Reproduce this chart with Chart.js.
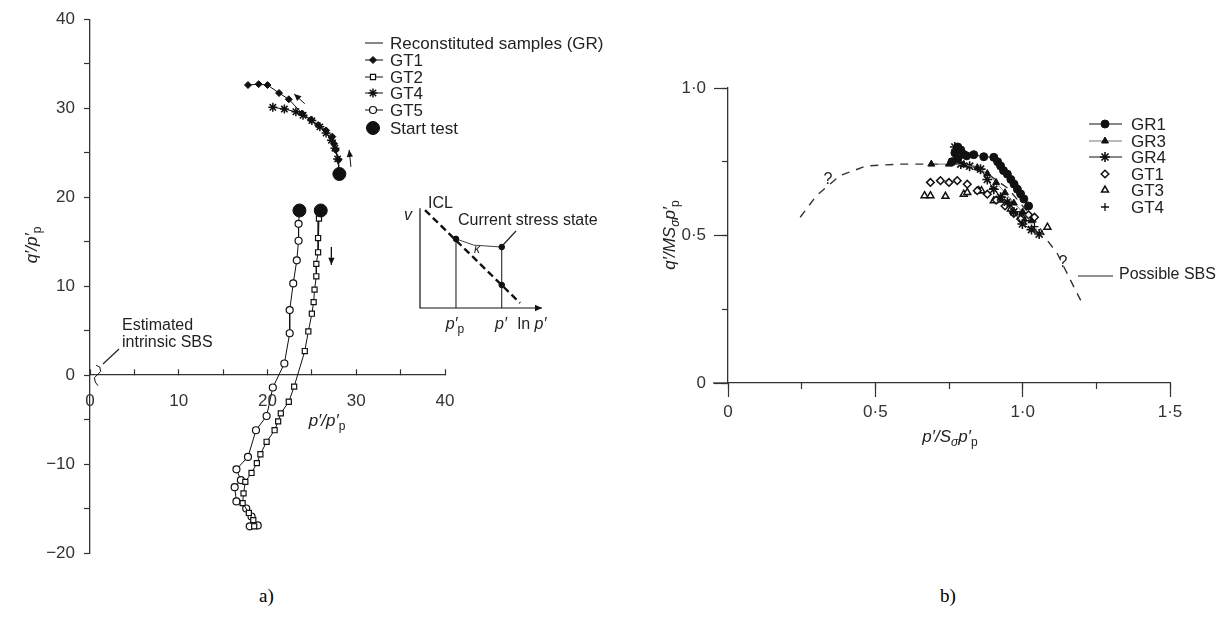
<!DOCTYPE html>
<html>
<head>
<meta charset="utf-8">
<script src="https://cdn.jsdelivr.net/npm/chart.js@4.4.1/dist/chart.umd.min.js"></script>
<style>
  html, body { margin: 0; padding: 0; background: #fff; }
  body { width: 1226px; height: 617px; position: relative; overflow: hidden; }
  canvas { position: absolute; }
  .cap { position: absolute; font-family: 'Liberation Serif', 'Times New Roman', serif; font-size: 19px; color: #000; }
</style>
</head>
<body>
<canvas id="left" width="640" height="580" style="left:0px;top:0px"></canvas>
<canvas id="inset" width="260" height="150" style="left:380px;top:190px"></canvas>
<canvas id="right" width="586" height="470" style="left:640px;top:0px"></canvas>
<div class="cap" style="left:259px;top:585px">a)</div>
<div class="cap" style="left:940px;top:585px">b)</div>
<script>
// ---- panel a) q'/p'p against p'/p'p ----
const grP = [0.7, 1.1, 1.2, 0.9, 0.5, 0.6, 0.9];
const grQ = [1.1, 0.9, 0.4, 0.1, -0.3, -0.8, -1.2];
const gt1P = [17.8, 19.0, 20.0, 21.3, 22.4, 23.9, 24.9, 25.7, 26.6, 27.3, 27.5, 27.7, 28.0, 28.1];
const gt1Q = [32.6, 32.7, 32.6, 31.7, 31.0, 29.4, 28.7, 28.1, 27.5, 26.8, 26.0, 25.3, 24.2, 22.6];
const gt2P = [26.0, 25.8, 25.7, 25.7, 25.5, 25.5, 25.3, 25.2, 25.0, 24.6, 24.2, 23.0, 22.4, 21.5, 21.2, 20.8, 19.9, 19.2, 18.8, 18.2, 17.5, 17.3, 17.2, 17.9, 18.4, 18.5];
const gt2Q = [18.5, 17.6, 15.4, 13.8, 12.5, 11.1, 9.6, 8.2, 6.9, 4.9, 2.7, -1.3, -3.0, -4.3, -5.2, -6.2, -7.5, -8.9, -9.9, -11.0, -12.0, -13.3, -14.4, -15.5, -16.3, -17.0];
const gt4P = [20.6, 21.9, 23.2, 24.0, 25.0, 25.9, 26.6, 27.2, 27.6, 27.9, 28.1];
const gt4Q = [30.1, 29.9, 29.6, 29.2, 28.6, 27.9, 27.2, 26.4, 25.5, 24.3, 22.6];
const gt5P = [23.6, 23.5, 23.5, 23.3, 22.9, 22.5, 22.5, 21.9, 20.6, 19.9, 18.7, 17.8, 16.5, 17.0, 16.3, 16.5, 17.6, 18.2, 18.0, 18.9];
const gt5Q = [18.5, 17.0, 15.1, 12.9, 10.3, 7.3, 4.7, 1.3, -1.4, -4.6, -6.2, -9.2, -10.6, -11.8, -12.6, -14.2, -15.0, -15.9, -17.0, -16.9];
const startP = [28.1, 23.6, 26.0];
const startQ = [22.6, 18.5, 18.5];
// direction arrows (tail -> head)
const dirTopP = [24.2, 23.0], dirTopQ = [30.5, 31.6];
const dirRightP = [29.4, 29.2], dirRightQ = [23.4, 25.3];
const dirLowP = [27.2, 27.2], dirLowQ = [14.4, 12.4];
const leftXLabels = ['0', '10', '20', '30', '40'];
const leftYLabels = ['\u221220', '\u221210', '0', '10', '20', '30', '40'];

// ---- inset sketch (v against ln p') ----
const insAxisX = [0, 0, 10], insAxisY = [10.4, 0, 0];
const iclX = [0.41, 8.2], iclY = [10.2, 0.52];
const ppX = [2.95, 2.95], ppY = [0, 7.2];
const pX = [6.7, 6.7], pY = [0, 6.35];
const kapX = [2.95, 4.4, 6.7], kapY = [7.2, 6.55, 6.35];
const dotX = [2.95, 6.7, 6.7], dotY = [7.2, 6.35, 2.4];

// ---- panel b) normalised ----
const sbsX = [0.245, 0.30, 0.38, 0.47, 0.585, 0.70, 0.80, 0.88, 0.95, 1.00, 1.05, 1.084, 1.118, 1.157, 1.197];
const sbsY = [0.562, 0.635, 0.703, 0.736, 0.742, 0.742, 0.735, 0.71, 0.66, 0.60, 0.54, 0.483, 0.438, 0.359, 0.280];
const gr1X = [0.76, 0.77, 0.78, 0.79, 0.78, 0.80, 0.81, 0.834, 0.868, 0.902, 0.915, 0.925, 0.935, 0.948, 0.96, 0.971, 0.982, 0.993, 1.004, 1.02];
const gr1Y = [0.75, 0.78, 0.80, 0.79, 0.76, 0.775, 0.77, 0.774, 0.767, 0.765, 0.75, 0.736, 0.72, 0.708, 0.69, 0.674, 0.657, 0.641, 0.624, 0.60];
const gr3X = [0.69, 0.75, 0.80, 0.846, 0.88, 0.91, 0.94, 0.97, 1.0, 1.03];
const gr3Y = [0.742, 0.742, 0.74, 0.73, 0.71, 0.68, 0.645, 0.61, 0.58, 0.55];
const gr4X = [0.77, 0.79, 0.82, 0.857, 0.88, 0.902, 0.925, 0.948, 0.97, 0.999, 1.03, 1.056];
const gr4Y = [0.80, 0.742, 0.735, 0.725, 0.69, 0.657, 0.63, 0.613, 0.58, 0.539, 0.52, 0.505];
const bGt1X = [0.687, 0.721, 0.75, 0.778, 0.812, 0.846, 0.88, 0.91, 0.94, 0.97, 0.993, 1.02, 1.04];
const bGt1Y = [0.68, 0.686, 0.68, 0.686, 0.674, 0.652, 0.64, 0.62, 0.60, 0.575, 0.556, 0.57, 0.562];
const gt3X = [0.667, 0.687, 0.738, 0.80, 0.812, 0.851, 0.86, 0.902, 0.92, 0.96, 1.0, 1.084];
const gt3Y = [0.635, 0.635, 0.633, 0.64, 0.646, 0.652, 0.652, 0.618, 0.62, 0.59, 0.56, 0.528];
const bGt4X = [0.90, 0.93, 0.95, 0.97, 0.99, 1.01, 1.04];
const bGt4Y = [0.66, 0.63, 0.61, 0.58, 0.57, 0.55, 0.53];
const rightXLabels = ['0', '0\u00b75', '1\u00b70', '1\u00b75'];
const rightYLabels = ['0', '0\u00b75', '1\u00b70'];

const F = "'Liberation Sans', Arial, sans-serif";
const INK = '#111';
const AX = '#333';
const pts = (xs, ys) => xs.map((x, i) => ({ x: x, y: ys[i] }));

function series(label, xs, ys, o) {
  return Object.assign({
    label: label, data: pts(xs, ys), showLine: true, borderColor: INK, borderWidth: 1,
    pointStyle: 'circle', pointRadius: 0, pointHoverRadius: 0,
    pointBackgroundColor: INK, pointBorderColor: INK, pointBorderWidth: 1, key: false
  }, o || {});
}

// text with italic / subscript parts
function drawRich(ctx, parts, x, y, size, align, rot) {
  ctx.save();
  ctx.translate(x, y);
  if (rot) ctx.rotate(rot);
  ctx.textBaseline = 'middle';
  ctx.textAlign = 'left';
  const fontOf = p => (p.it ? 'italic ' : '') + (p.sub ? Math.round(size * 0.72) : size) + 'px ' + F;
  let w = 0;
  parts.forEach(p => { ctx.font = fontOf(p); w += ctx.measureText(p.t).width; });
  let cx = align === 'center' ? -w / 2 : (align === 'right' ? -w : 0);
  parts.forEach(p => {
    ctx.font = fontOf(p);
    ctx.fillText(p.t, cx, p.sub ? size * 0.32 : 0);
    cx += ctx.measureText(p.t).width;
  });
  ctx.restore();
}

function makeNotes(items) {
  return {
    id: 'notes',
    afterDraw(chart) {
      const ctx = chart.ctx;
      items.forEach(it => {
        ctx.save();
        ctx.fillStyle = it.color || '#222';
        ctx.strokeStyle = it.color || '#222';
        if (it.line) {
          ctx.lineWidth = it.width || 1;
          ctx.beginPath();
          ctx.moveTo(it.line[0], it.line[1]);
          ctx.lineTo(it.line[2], it.line[3]);
          ctx.stroke();
        } else {
          drawRich(ctx, it.parts || [{ t: it.text }], it.x, it.y, it.size || 17, it.align || 'left', it.rot || 0);
        }
        ctx.restore();
      });
    }
  };
}

// arrowheads on the last segment of flagged datasets
const arrowPlugin = {
  id: 'arrows',
  afterDatasetsDraw(chart) {
    const ctx = chart.ctx;
    chart.data.datasets.forEach((ds, i) => {
      if (!ds.arrowHead) return;
      const el = chart.getDatasetMeta(i).data;
      const a = el[el.length - 2], b = el[el.length - 1];
      const ang = Math.atan2(b.y - a.y, b.x - a.x);
      const L = ds.arrowHead, W = L * 0.45;
      ctx.save();
      ctx.fillStyle = ds.borderColor;
      ctx.beginPath();
      ctx.moveTo(b.x, b.y);
      ctx.lineTo(b.x - L * Math.cos(ang) + W * Math.sin(ang), b.y - L * Math.sin(ang) - W * Math.cos(ang));
      ctx.lineTo(b.x - L * Math.cos(ang) - W * Math.sin(ang), b.y - L * Math.sin(ang) + W * Math.cos(ang));
      ctx.closePath();
      ctx.fill();
      ctx.restore();
    });
  }
};

function drawMarker(ctx, ds, x, y) {
  if (!ds.pointRadius) return;
  ctx.fillStyle = ds.pointBackgroundColor;
  ctx.strokeStyle = ds.pointBorderColor;
  ctx.lineWidth = ds.pointBorderWidth;
  Chart.helpers.drawPoint(ctx, { pointStyle: ds.pointStyle, radius: ds.pointRadius, borderWidth: ds.pointBorderWidth, rotation: 0 }, x, y);
}

function makeKey(k) {
  return {
    id: 'key',
    afterDraw(chart) {
      const ctx = chart.ctx;
      const list = chart.data.datasets.filter(d => d.key);
      list.forEach((ds, i) => {
        const y = k.rows[i];
        ctx.save();
        if (ds.showLine) {
          ctx.strokeStyle = ds.borderColor;
          ctx.lineWidth = ds.borderWidth;
          ctx.beginPath();
          ctx.moveTo(k.x0, y);
          ctx.lineTo(k.x1, y);
          ctx.stroke();
        }
        drawMarker(ctx, ds, k.mx, y);
        ctx.fillStyle = '#222';
        ctx.font = k.size + 'px ' + F;
        ctx.textBaseline = 'middle';
        ctx.textAlign = 'left';
        ctx.fillText(ds.label, k.tx, y + 1);
        ctx.restore();
      });
    }
  };
}

const tickFont = { family: F, size: 17 };

// ---------- panel a ----------
new Chart(document.getElementById('left'), {
  type: 'scatter',
  data: {
    datasets: [
      series('Reconstituted samples (GR)', grP, grQ, { key: true }),
      series('GT1', gt1P, gt1Q, { key: true, pointStyle: 'rectRot', pointRadius: 3.5 }),
      series('GT2', gt2P, gt2Q, { key: true, pointStyle: 'rect', pointRadius: 3.6, pointBackgroundColor: '#fff', pointBorderWidth: 1.2 }),
      series('GT4', gt4P, gt4Q, { key: true, pointStyle: 'star', pointRadius: 4.5, pointBorderWidth: 1.5 }),
      series('GT5', gt5P, gt5Q, { key: true, pointStyle: 'circle', pointRadius: 3.5, pointBackgroundColor: '#fff', pointBorderWidth: 1.2 }),
      series('Start test', startP, startQ, { key: true, showLine: false, pointRadius: 6.5, order: -1 }),
      series('', dirTopP, dirTopQ, { arrowHead: 7 }),
      series('', dirRightP, dirRightQ, { arrowHead: 7 }),
      series('', dirLowP, dirLowQ, { arrowHead: 7 })
    ]
  },
  options: {
    responsive: false, animation: false, devicePixelRatio: 1,
    layout: { padding: { top: 19, right: 195, bottom: 27, left: 0 } },
    plugins: { legend: { display: false }, tooltip: { enabled: false } },
    scales: {
      x: {
        type: 'linear', min: 0, max: 40, position: { y: 0 },
        ticks: { stepSize: 5, autoSkip: false, maxRotation: 0, padding: 22, color: AX, font: tickFont,
          callback: v => (v % 10 === 0 ? leftXLabels[v / 10] : '') },
        grid: { drawOnChartArea: false, tickLength: -6, color: AX, tickWidth: 1.2 },
        border: { color: AX, width: 1.3 }
      },
      y: {
        type: 'linear', min: -20, max: 40, position: 'left',
        afterFit: s => { s.width = 90; },
        ticks: { stepSize: 5, autoSkip: false, padding: 9, color: AX, font: tickFont,
          callback: v => (v % 10 === 0 ? leftYLabels[(v + 20) / 10] : '') },
        grid: { drawOnChartArea: false, tickLength: 6, color: AX, tickWidth: 1.2 },
        border: { color: AX, width: 1.3 }
      }
    }
  },
  plugins: [
    arrowPlugin,
    makeKey({ mx: 373, x0: 365, x1: 383, tx: 390, rows: [43, 60, 77, 93, 110, 128], size: 17 }),
    makeNotes([
      { parts: [{ t: 'q\u2032/p\u2032', it: 1 }, { t: 'p', sub: 1 }], x: 32, y: 245, size: 17, align: 'center', rot: -Math.PI / 2 },
      { parts: [{ t: 'p\u2032/p\u2032', it: 1 }, { t: 'p', sub: 1 }], x: 327, y: 421, size: 17, align: 'center' },
      { text: 'Estimated', x: 122, y: 326, size: 16 },
      { text: 'intrinsic SBS', x: 122, y: 343, size: 16 },
      { line: [103, 364, 119, 349], width: 1.2 }
    ])
  ]
});

// ---------- inset ----------
new Chart(document.getElementById('inset'), {
  type: 'scatter',
  data: {
    datasets: [
      series('', insAxisX, insAxisY, { arrowHead: 7, borderWidth: 1.2, clip: false }),
      series('', iclX, iclY, { borderDash: [7, 4], borderWidth: 2.4, clip: false }),
      series('', ppX, ppY, { clip: false }),
      series('', pX, pY, { clip: false }),
      series('', kapX, kapY, { borderWidth: 0.8, clip: false }),
      series('', dotX, dotY, { showLine: false, pointRadius: 2.8, clip: false })
    ]
  },
  options: {
    responsive: false, animation: false, devicePixelRatio: 1,
    layout: { padding: { top: 22, right: 98, bottom: 32, left: 40 } },
    plugins: { legend: { display: false }, tooltip: { enabled: false } },
    scales: {
      x: { type: 'linear', min: 0, max: 10, display: false },
      y: { type: 'linear', min: 0, max: 10, display: false }
    }
  },
  plugins: [
    arrowPlugin,
    makeNotes([
      { parts: [{ t: 'v', it: 1 }], x: 28, y: 26, size: 16, align: 'center' },
      { text: 'ICL', x: 48, y: 14, size: 16 },
      { text: 'Current stress state', x: 78, y: 31, size: 16 },
      { line: [123, 55, 136, 41], width: 1.2 },
      { parts: [{ t: '\u03ba', it: 1 }], x: 97, y: 60, size: 12, align: 'center' },
      { parts: [{ t: 'p\u2032', it: 1 }, { t: 'p', sub: 1 }], x: 75, y: 135, size: 16, align: 'center' },
      { parts: [{ t: 'p\u2032', it: 1 }], x: 121, y: 135, size: 16, align: 'center' },
      { parts: [{ t: 'ln ' }, { t: 'p\u2032', it: 1 }], x: 152, y: 135, size: 16, align: 'center' }
    ])
  ]
});

// ---------- panel b ----------
new Chart(document.getElementById('right'), {
  type: 'scatter',
  data: {
    datasets: [
      series('GR1', gr1X, gr1Y, { key: true, pointStyle: 'circle', pointRadius: 4 }),
      series('GR3', gr3X, gr3Y, { key: true, borderColor: '#777', pointStyle: 'triangle', pointRadius: 4 }),
      series('GR4', gr4X, gr4Y, { key: true, pointStyle: 'star', pointRadius: 5, pointBorderWidth: 1.6 }),
      series('GT1', bGt1X, bGt1Y, { key: true, showLine: false, pointStyle: 'rectRot', pointRadius: 3.8, pointBackgroundColor: '#fff', pointBorderWidth: 1.5 }),
      series('GT3', gt3X, gt3Y, { key: true, showLine: false, pointStyle: 'triangle', pointRadius: 4, pointBackgroundColor: '#fff', pointBorderWidth: 1.5 }),
      series('GT4', bGt4X, bGt4Y, { key: true, showLine: false, pointStyle: 'cross', pointRadius: 4, pointBorderWidth: 1.3 }),
      series('Possible SBS', sbsX, sbsY, { borderDash: [8, 7], borderWidth: 1.4, borderColor: '#333', order: 5 })
    ]
  },
  options: {
    responsive: false, animation: false, devicePixelRatio: 1,
    layout: { padding: { top: 88, right: 56, bottom: 0, left: 0 } },
    plugins: { legend: { display: false }, tooltip: { enabled: false } },
    scales: {
      x: {
        type: 'linear', min: 0, max: 1.5, position: 'bottom',
        afterFit: s => { s.height = 87; },
        ticks: { stepSize: 0.5, autoSkip: false, maxRotation: 0, padding: 5, color: AX, font: tickFont,
          callback: v => rightXLabels[Math.round(v / 0.5)] },
        grid: { drawOnChartArea: false, tickLength: 14, color: AX, tickWidth: 1.2 },
        border: { color: AX, width: 1.3 }
      },
      x2: {
        type: 'linear', min: 0, max: 1.5, position: { y: 0 },
        ticks: { stepSize: 0.25, display: false },
        grid: { drawOnChartArea: false, tickLength: 6, color: AX, tickWidth: 1.2 },
        border: { display: false }
      },
      y: {
        type: 'linear', min: 0, max: 1, position: 'left',
        afterFit: s => { s.width = 88; },
        ticks: { stepSize: 0.5, autoSkip: false, padding: 8, color: AX, font: tickFont,
          callback: v => rightYLabels[Math.round(v / 0.5)] },
        grid: { drawOnChartArea: false, tickLength: 14, color: AX, tickWidth: 1.2 },
        border: { color: AX, width: 1.3 }
      },
      y2: {
        type: 'linear', min: 0, max: 1, position: { x: 0 },
        ticks: { stepSize: 0.25, display: false },
        grid: { drawOnChartArea: false, tickLength: 6, color: AX, tickWidth: 1.2 },
        border: { display: false }
      }
    }
  },
  plugins: [
    makeKey({ mx: 465, x0: 449, x1: 482, tx: 491, rows: [124, 141, 157, 174, 190, 207], size: 17 }),
    makeNotes([
      { parts: [{ t: 'q\u2032/MS', it: 1 }, { t: '\u03c3', it: 1, sub: 1 }, { t: 'p\u2032', it: 1 }, { t: 'p', sub: 1 }], x: 30, y: 235, size: 17, align: 'center', rot: -Math.PI / 2 },
      { parts: [{ t: 'p\u2032/S', it: 1 }, { t: '\u03c3', it: 1, sub: 1 }, { t: 'p\u2032', it: 1 }, { t: 'p', sub: 1 }], x: 310, y: 437, size: 17, align: 'center' },
      { text: '?', x: 188, y: 180, size: 16, align: 'center' },
      { text: '?', x: 423, y: 263, size: 16, align: 'center' },
      { text: 'Possible SBS', x: 479, y: 275, size: 16 },
      { line: [438, 276, 473, 276], width: 1.2 },
      { line: [73, 383, 88, 383], width: 1.3, color: AX }
    ])
  ]
});
</script>
</body>
</html>
